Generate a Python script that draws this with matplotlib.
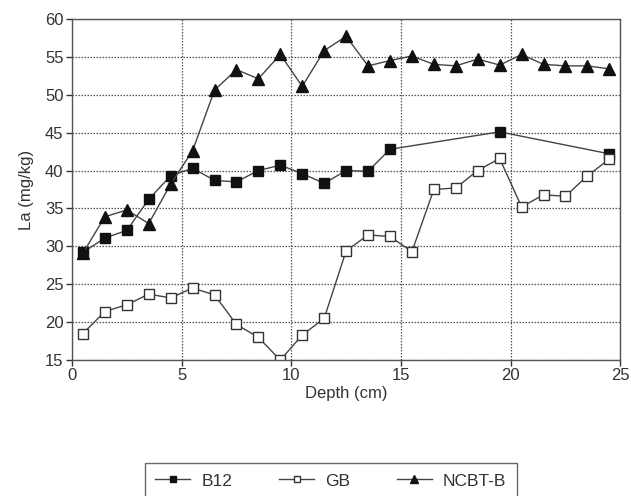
import matplotlib
matplotlib.use("Agg")
import matplotlib.pyplot as plt

depth_b12 = [0.5, 1.5, 2.5, 3.5, 4.5, 5.5, 6.5, 7.5, 8.5, 9.5, 10.5, 11.5, 12.5, 13.5, 14.5, 19.5, 24.5]
b12 = [29.2, 31.1, 32.1, 36.2, 39.3, 40.3, 38.7, 38.5, 40.0, 40.7, 39.6, 38.3, 40.0, 39.9, 42.8, 45.1, 42.2]

depth_gb = [0.5, 1.5, 2.5, 3.5, 4.5, 5.5, 6.5, 7.5, 8.5, 9.5, 10.5, 11.5, 12.5, 13.5, 14.5,
            15.5, 16.5, 17.5, 18.5, 19.5, 20.5, 21.5, 22.5, 23.5, 24.5]
gb = [18.5, 21.4, 22.3, 23.7, 23.2, 24.5, 23.6, 19.7, 18.0, 15.0, 18.3, 20.5, 29.4, 31.5, 31.3,
      29.3, 37.5, 37.7, 40.0, 41.6, 35.2, 36.8, 36.6, 39.3, 41.5]

depth_ncbt = depth_gb
ncbt = [29.1, 33.9, 34.8, 33.0, 38.2, 42.6, 50.6, 53.3, 52.1, 55.3, 51.1, 55.8, 57.7, 53.8, 54.5,
        55.1, 54.0, 53.8, 54.7, 53.9, 55.3, 54.0, 53.8, 53.8, 53.4]

xticks = [0, 5, 10, 15, 20, 25]
yticks = [15, 20, 25, 30, 35, 40, 45, 50, 55, 60]

plt.rcParams['font.family'] = ['Liberation Sans', 'DejaVu Sans']

fig = plt.figure(figsize=(6.31, 4.96), dpi=100)
ax = fig.add_axes([0.114, 0.274, 0.869, 0.688])

lc = '#444444'
ax.plot(depth_b12, b12, '-s', color=lc, lw=1.0, ms=6.5, mfc='#111111', mec='#111111', label='B12')
ax.plot(depth_gb, gb, '-s', color=lc, lw=1.0, ms=6.5, mfc='white', mec='#333333', mew=1.0, label='GB')
ax.plot(depth_ncbt, ncbt, '-^', color=lc, lw=1.0, ms=8.5, mfc='#111111', mec='#111111', label='NCBT-B')

ax.set_xlim(0, 25)
ax.set_ylim(15, 60)
ax.set_xticks(xticks)
ax.set_yticks(yticks)
ax.grid(True, linestyle=(0, (1.2, 1.2)), color='#555555', lw=0.9)
for s in ax.spines.values():
    s.set_color('#555555')
    s.set_linewidth(1.0)
ax.tick_params(labelsize=12, colors='#333333', length=4, width=1, direction='out', pad=2)
ax.set_xlabel('Depth (cm)', fontsize=12, color='#333333', labelpad=2)
ax.set_ylabel('La (mg/kg)', fontsize=12, color='#333333', labelpad=8)

leg = fig.legend(loc='upper left', bbox_to_anchor=(145 / 631, 1 - 463 / 496),
                 bbox_transform=fig.transFigure,
                 ncol=3, frameon=True, fontsize=12.5, handlelength=2.0, handletextpad=0.65,
                 columnspacing=2.7, markerscale=0.65,
                 fancybox=False, edgecolor='#444444', borderpad=0.6, borderaxespad=0)
for t in leg.get_texts():
    t.set_color('#333333')

fig.savefig('out.png', dpi=100)
